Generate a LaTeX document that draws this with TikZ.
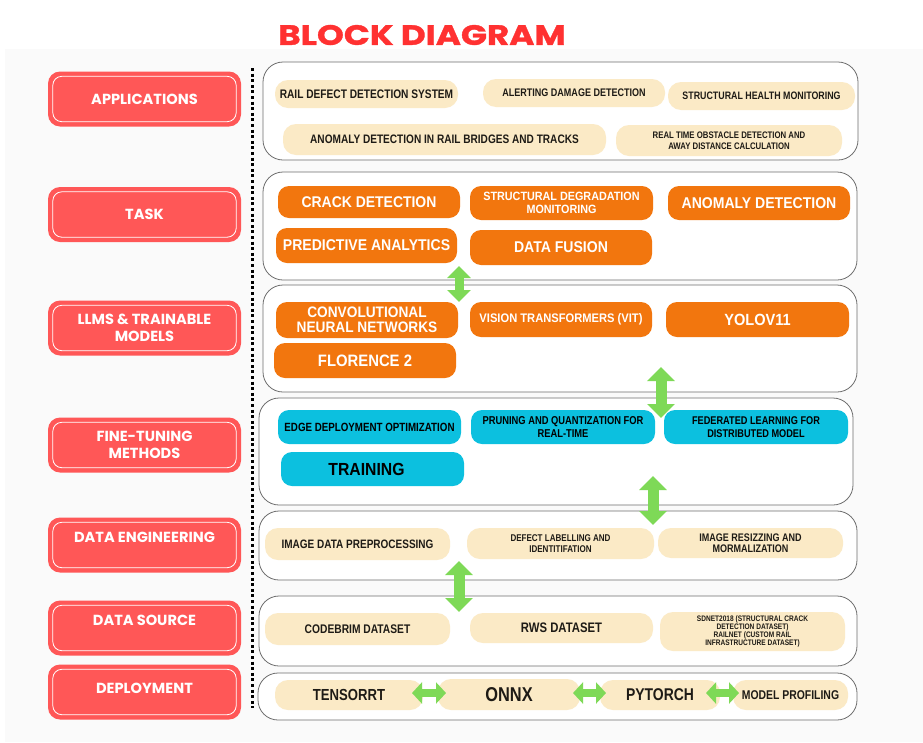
\documentclass[tikz,border=0pt]{standalone}
\usepackage{fontspec}
\setmainfont{Liberation Sans}
\newfontfamily\headfont{Poppins}
\newfontfamily\titlefont{Poppins}[FakeStretch=1.22, FakeBold=1.2]
\newfontfamily\narrowfont{Liberation Sans}[FakeStretch=0.82]
\newfontfamily\midfont{Liberation Sans}[FakeStretch=0.9]
\usetikzlibrary{arrows.meta}

\definecolor{tagred}{HTML}{FF5757}
\definecolor{titlered}{HTML}{FF3131}
\definecolor{orng}{HTML}{F2760E}
\definecolor{cyanb}{HTML}{0CC0DF}
\definecolor{cream}{HTML}{FBEAC6}
\definecolor{flowgreen}{HTML}{7ED957}
\definecolor{panelgray}{HTML}{6E6E6E}
\definecolor{creamtext}{HTML}{1E1B16}

\newcommand{\fsz}[2]{\fontsize{#1}{#2}\selectfont}

\tikzset{
  wh/.style 2 args={minimum width=#1pt, minimum height=#2pt},
  cf/.style 2 args={font=\narrowfont\bfseries\fsz{#1}{#2}},
  mf/.style 2 args={font=\midfont\bfseries\fsz{#1}{#2}},
  tag/.style={fill=tagred, rounded corners=12pt, minimum width=193pt, minimum height=55pt,
    inner sep=0pt, text=white, align=center, font=\headfont\bfseries\fsz{14.6}{17}},
  panel/.style={draw=panelgray, line width=0.8pt, fill=white, rounded corners=20pt, inner sep=0pt},
  creampill/.style={fill=cream, rounded corners=13pt, inner sep=0pt, align=center, text=creamtext},
  orangepill/.style={fill=orng, rounded corners=11pt, inner sep=0pt, align=center, text=white},
  cyanpill/.style={fill=cyanb, rounded corners=11pt, inner sep=0pt, align=center, text=black},
  flowbig/.style={draw=flowgreen, line width=11pt,
    arrows={Triangle[length=14pt,width=27pt]-Triangle[length=14pt,width=27pt]}},
  flowsmall/.style={draw=flowgreen, line width=9pt,
    arrows={Triangle[length=12pt,width=23pt]-Triangle[length=12pt,width=23pt]}},
  flowside/.style={draw=flowgreen, line width=8pt,
    arrows={Triangle[length=10pt,width=21pt]-Triangle[length=10pt,width=21pt]}},
  tagrim/.style={draw=white, line width=0.8pt, rounded corners=9pt},
}

\begin{document}
\begin{tikzpicture}[x=1pt, y=-1pt]
\useasboundingbox (0,0) rectangle (923,742);
\fill[white] (0,0) rectangle (923,742);
\fill[black!2] (5,49) rectangle (923,742);

% heading
\node[text=titlered, font=\titlefont\bfseries\fsz{28}{30}] (title) at (422,35) {BLOCK DIAGRAM};

% layer tags on the left
\node[tag] (tapp)  at (144.5,99)  {APPLICATIONS};
\node[tag] (ttask) at (144.5,214.5) {TASK};
\node[tag] (tllm)  at (144.5,328) {LLMS \& TRAINABLE\\MODELS};
\node[tag] (tfine) at (144.5,445) {FINE-TUNING\\METHODS};
\node[tag] (tdeng) at (144.5,545) {\raisebox{8pt}[\height][\depth]{DATA ENGINEERING}};
\node[tag] (tdsrc) at (144.5,628) {\raisebox{8pt}[\height][\depth]{DATA SOURCE}};
\node[tag] (tdep)  at (144.5,692) {\raisebox{4pt}[\height][\depth]{DEPLOYMENT}};
\foreach \t in {tapp,ttask,tllm,tfine,tdeng,tdsrc,tdep}{
  \draw[tagrim] ([shift={(5,5)}]\t.north west) rectangle ([shift={(-5,-5)}]\t.south east);
}

% dotted separator
\coordinate (dtop) at (252,68);
\coordinate (dbot) at (252,708);
\draw[line width=3pt, dash pattern=on 3pt off 2.6pt] (dtop) -- (dbot);

% layer panels
\node[panel, wh={595}{98}]  (papp)  at (560.5,111) {};
\node[panel, wh={594}{108}] (ptask) at (560,226) {};
\node[panel, wh={594}{107}] (pllm)  at (560,338.5) {};
\node[panel, wh={594}{107}] (pfine) at (556,451.5) {};
\node[panel, wh={598}{69}]  (pdeng) at (558,545.5) {};
\node[panel, wh={598}{70}]  (pdsrc) at (558,631) {};
\node[panel, wh={599}{47}]  (pdep)  at (557.5,696.5) {};

% applications
\node[creampill, wh={183}{28}, cf={12.4}{14}] (rds) at (366.5,94) {RAIL DEFECT DETECTION SYSTEM};
\node[creampill, wh={182}{28}, cf={11}{13}] (adm) at (574,93) {ALERTING DAMAGE DETECTION};
\node[creampill, wh={187}{28}, cf={10.8}{13}] (shm) at (761.5,96) {STRUCTURAL HEALTH MONITORING};
\node[creampill, wh={323}{31}, cf={12.3}{14}] (adr) at (444.5,139.5) {ANOMALY DETECTION IN RAIL BRIDGES AND TRACKS};
\node[creampill, wh={226}{31}, cf={9.5}{10.5}] (rto) at (729,140.5) {REAL TIME OBSTACLE DETECTION AND\\AWAY DISTANCE CALCULATION};

% tasks
\node[orangepill, wh={182}{32}, mf={15.5}{17}] (crack) at (369,202) {CRACK DETECTION};
\node[orangepill, wh={183}{34}, mf={12}{13.5}] (sdm) at (561.5,203) {STRUCTURAL DEGRADATION\\MONITORING};
\node[orangepill, wh={182}{34}, mf={15.6}{17}] (anom) at (759,203) {ANOMALY DETECTION};
\node[orangepill, wh={181}{35}, mf={15.6}{17}] (pred) at (366.5,245.5) {PREDICTIVE ANALYTICS};
\node[orangepill, wh={182}{35}, mf={15.6}{17}] (fusion) at (561,247.5) {DATA FUSION};

% models
\node[orangepill, wh={182}{36}, mf={15.2}{15}] (cnn) at (367,320) {CONVOLUTIONAL\\NEURAL NETWORKS};
\node[orangepill, wh={182}{35}, mf={12.4}{14}] (vit) at (561,319.5) {VISION TRANSFORMERS (VIT)};
\node[orangepill, wh={183}{35}, mf={16.2}{18}] (yolo) at (757.5,319.5) {YOLOV11};
\node[orangepill, wh={182}{35}, mf={16.5}{18}] (flor) at (365,360.5) {FLORENCE 2};

% fine-tuning
\node[cyanpill, wh={183}{34}, cf={11.9}{13}] (edge) at (369.5,427) {EDGE DEPLOYMENT OPTIMIZATION};
\node[cyanpill, wh={184}{34}, cf={11.4}{13}] (prune) at (563,427) {PRUNING AND QUANTIZATION FOR\\REAL-TIME};
\node[cyanpill, wh={184}{34}, cf={11.2}{12.5}] (fed) at (756,427) {FEDERATED LEARNING FOR\\DISTRIBUTED MODEL};
\node[cyanpill, wh={183}{34}, mf={17.5}{19}] (train) at (372.5,469) {TRAINING\hspace*{12pt}};

% data engineering
\node[creampill, wh={185}{32}, cf={12.2}{14}] (idp) at (357.5,544) {IMAGE DATA PREPROCESSING};
\node[creampill, wh={187}{31}, cf={9.8}{10.5}] (dli) at (560.5,543.5) {DEFECT LABELLING AND\\IDENTITIFATION};
\node[creampill, wh={185}{30}, cf={11}{11.5}] (irm) at (750.5,543) {IMAGE RESIZZING AND\\MORMALIZATION};

% data sources
\node[creampill, wh={185}{32}, cf={12.5}{14}] (cod) at (357.5,629) {CODEBRIM DATASET};
\node[creampill, wh={183}{30}, cf={13.8}{15}] (rws) at (561.5,628) {RWS DATASET};
\node[creampill, wh={185}{39}, cf={8}{8.2}] (sdn) at (752.5,631.5) {SDNET2018 (STRUCTURAL CRACK\\DETECTION DATASET)\\RAILNET (CUSTOM RAIL\\INFRASTRUCTURE DATASET)};

% deployment
\node[creampill, wh={148}{30}, cf={16}{17}] (trt) at (349,695) {TENSORRT};
\node[creampill, wh={142}{31}, cf={20}{21}] (onnx) at (509,694.5) {ONNX};
\node[creampill, wh={120}{30}, cf={17}{18}] (pyt) at (660,695) {PYTORCH};
\node[creampill, wh={115}{30}, cf={12.7}{14}] (mprof) at (790.5,695) {MODEL PROFILING};

% links between layers
\coordinate (a1s) at (459,266);  \coordinate (a1e) at (459,302);
\coordinate (a2s) at (661,367);  \coordinate (a2e) at (661,418);
\coordinate (a3s) at (653,476);  \coordinate (a3e) at (653,525);
\coordinate (a4s) at (459,561);  \coordinate (a4e) at (459,612);
\draw[flowsmall] (a1s) -- (a1e);
\draw[flowbig] (a2s) -- (a2e);
\draw[flowbig] (a3s) -- (a3e);
\draw[flowbig] (a4s) -- (a4e);

% links inside the deployment layer
\coordinate (h1s) at (412,693); \coordinate (h1e) at (446,693);
\coordinate (h2s) at (573,693); \coordinate (h2e) at (606,693);
\coordinate (h3s) at (706,693); \coordinate (h3e) at (739,693);
\draw[flowside] (h1s) -- (h1e);
\draw[flowside] (h2s) -- (h2e);
\draw[flowside] (h3s) -- (h3e);
\end{tikzpicture}
\end{document}
